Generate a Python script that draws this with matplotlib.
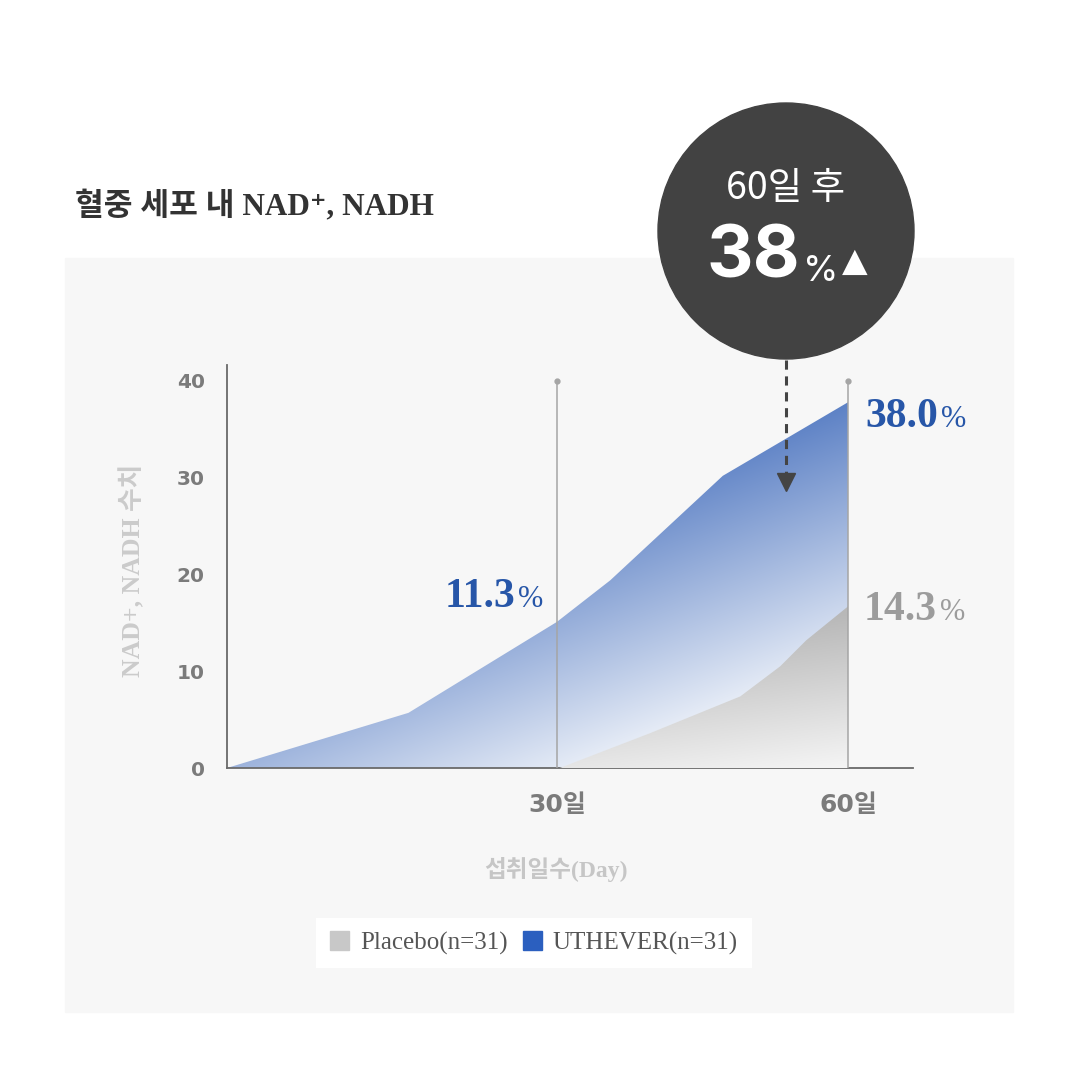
import numpy as np
import matplotlib.pyplot as plt
from matplotlib.patches import Rectangle, Circle, Patch
from matplotlib.lines import Line2D

plt.rcParams['font.family'] = ['Liberation Serif', 'Noto Sans CJK KR', 'DejaVu Sans']

# data
days_uthever = [-4, 14.7, 30, 35.5, 47.1, 60]
uthever = [0, 5.7, 15.1, 19.4, 30.2, 37.8]
days_placebo = [30.3, 39.6, 48.9, 53.0, 55.7, 60]
placebo = [0, 3.6, 7.4, 10.5, 13.2, 16.7]

y_ticks = [0, 10, 20, 30, 40]
x_ticks = [30, 60]
x_tick_labels = ['30일', '60일']
series_names = ['Placebo(n=31)', 'UTHEVER(n=31)']
end_labels = ['11.3', '38.0', '14.3']
title = '혈중 세포 내 NAD⁺, NADH'
y_label = 'NAD+, NADH 수치'
x_label = '섭취일수(Day)'
bubble_top = '60일 후'
bubble_value = '38'

W = 1080
blue_txt = '#2756a8'
gray_txt = '#9c9c9c'
sans = ['DejaVu Sans', 'Noto Sans CJK KR']


def fx(x):
    return x / W


def fy(y):
    return 1 - y / W


def gradient_fill(ax, x, y, func, c0, c1, z):
    poly = ax.fill_between(x, y, 0, facecolor='none', edgecolor='none', zorder=z)
    xs = np.linspace(min(x), max(x), 300)
    ys = np.linspace(0, max(y), 300)
    X, Y = np.meshgrid(xs, ys)
    d = np.clip(func(X, Y), 0, 1)[..., None]
    img = np.array(c0) / 255 * (1 - d) + np.array(c1) / 255 * d
    im = ax.imshow(img, extent=[min(x), max(x), 0, max(y)], origin='lower',
                   aspect='auto', zorder=z, interpolation='bilinear')
    im.set_clip_path(poly.get_paths()[0], transform=ax.transData)


fig = plt.figure(figsize=(10.8, 10.8), dpi=100)

# light panel behind the chart
fig.add_artist(Rectangle((fx(65), fy(1012)), (1013 - 65) / W, (1012 - 258) / W,
                         transform=fig.transFigure, color='#f7f7f7', zorder=-1))

ax = fig.add_axes([227 / W, 1 - 768 / W, 686 / W, (768 - 365.5) / W])
ax.patch.set_alpha(0)

gradient_fill(ax, days_uthever, uthever,
              lambda X, Y: 0.55 + 1.33 * Y / 40 - 0.85 * (X + 4) / 64,
              (243, 246, 251), (86, 124, 195), 2)
gradient_fill(ax, days_placebo, placebo,
              lambda X, Y: Y / 16 + 0.25 - 0.25 * (X - 30) / 30,
              (245, 245, 245), (184, 184, 184), 3)

ax.vlines(x_ticks, 0, 40, color='#a5a5a5', lw=1.1, zorder=4)
ax.plot(x_ticks, [40, 40], 'o', ms=3.5, color='#a5a5a5', zorder=4, clip_on=False)

ax.set_xlim(-4, 66.7)
ax.set_ylim(0, 41.6)
for s in ['top', 'right']:
    ax.spines[s].set_visible(False)
for s in ['left', 'bottom']:
    ax.spines[s].set_color('#6a6a6a')
    ax.spines[s].set_linewidth(1.3)

ax.set_yticks(y_ticks)
ax.set_yticklabels([str(t) for t in y_ticks], fontfamily=sans, fontweight='bold',
                   fontsize=14.5, color='#7b7b7b')
ax.set_xticks(x_ticks)
ax.set_xticklabels(x_tick_labels, fontfamily=sans, fontweight='bold',
                   fontsize=18, color='#7b7b7b')
ax.tick_params(axis='y', length=0, pad=16)
ax.tick_params(axis='x', length=0, pad=18)

# value labels
lab = dict(textcoords='offset points', va='baseline', annotation_clip=False)
ax.annotate(end_labels[0], (days_uthever[2], uthever[2]), xytext=(-30, 10.7), ha='right',
            fontsize=30, fontweight='bold', color=blue_txt, **lab)
ax.annotate('%', (days_uthever[2], uthever[2]), xytext=(-28, 10.7), ha='left',
            fontsize=22, color=blue_txt, **lab)
ax.annotate(end_labels[1], (days_uthever[-1], uthever[-1]), xytext=(64.8, -17.8), ha='right',
            fontsize=30, fontweight='bold', color=blue_txt, **lab)
ax.annotate('%', (days_uthever[-1], uthever[-1]), xytext=(67, -17.8), ha='left',
            fontsize=22, color=blue_txt, **lab)
ax.annotate(end_labels[2], (days_placebo[-1], placebo[-1]), xytext=(64, -9.8), ha='right',
            fontsize=30, fontweight='bold', color=gray_txt, **lab)
ax.annotate('%', (days_placebo[-1], placebo[-1]), xytext=(66.5, -9.8), ha='left',
            fontsize=22, color=gray_txt, **lab)

# titles and axis labels
fig.text(fx(75), fy(207), title, ha='left', va='center', fontsize=22.5,
         fontweight='bold', color='#333333')
fig.text(fx(133), fy(570), y_label, rotation=90, ha='center', va='center',
         fontsize=18.5, fontweight='bold', color='#cbcbcb')
fig.text(fx(556), fy(870), x_label, ha='center', va='center', fontsize=17,
         fontweight='bold', color='#c6c6c6')

# callout bubble
fig.add_artist(Circle((fx(786), fy(231)), 128 / W, transform=fig.transFigure,
                      color='#424242', zorder=10))
fig.text(fx(786), fy(188), bubble_top, ha='center', va='center', fontsize=27,
         color='white', fontfamily=['Noto Sans CJK KR'], zorder=11)
fig.text(fx(800), fy(278), bubble_value, ha='right', va='baseline', fontsize=52,
         fontweight='bold', color='white', fontfamily='Inter', zorder=11)
fig.text(fx(803), fy(281), '%', ha='left', va='baseline', fontsize=26,
         color='white', fontfamily='Inter', zorder=11)
fig.text(fx(842), fy(271), '▲', ha='left', va='baseline', fontsize=24,
         color='white', fontfamily='DejaVu Sans', zorder=11)

fig.add_artist(Line2D([fx(786), fx(786)], [fy(360), fy(474)], transform=fig.transFigure,
                      color='#444444', lw=2.2, dashes=(3, 2.2), zorder=11))
fig.add_artist(Line2D([fx(786)], [fy(482)], transform=fig.transFigure, marker='v',
                      ms=13, color='#444444', zorder=11))

# legend
handles = [Patch(color='#c8c8c8'), Patch(color='#2b5fbf')]
fig.legend(handles, series_names, loc='center', bbox_to_anchor=(fx(534), fy(943)),
           ncol=2, frameon=True, facecolor='white', edgecolor='none', fancybox=False,
           framealpha=1, prop={'family': 'Liberation Serif', 'size': 18},
           labelcolor='#555555', handlelength=0.75, handleheight=0.75,
           handletextpad=0.45, columnspacing=0.6, borderpad=0.55)

plt.savefig('out.png', dpi=100)
